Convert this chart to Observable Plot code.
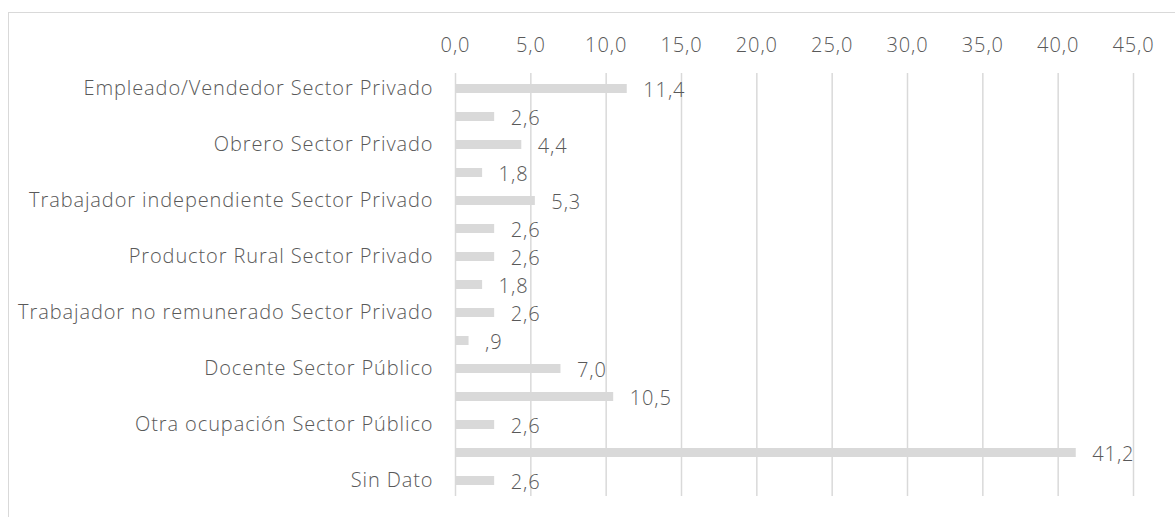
<!DOCTYPE html>
<html>
<head>
<meta charset="utf-8">
<script src="https://cdn.jsdelivr.net/npm/d3@7"></script>
<script src="https://cdn.jsdelivr.net/npm/@observablehq/plot@0.6"></script>
<style>
  html, body { margin: 0; padding: 0; background: #fff; }
  #wrap { position: relative; width: 1175px; height: 517px; overflow: hidden; }
  #frame { position: absolute; left: 8px; top: 12px; width: 1200px; height: 600px;
           border-left: 1.5px solid #d9d9d9; border-top: 1.5px solid #d9d9d9; }
  #chart { position: absolute; left: 0; top: 0; }
  svg text { font-weight: 300; letter-spacing: 0.9px; }
</style>
</head>
<body>
<div id="wrap"><div id="frame"></div><div id="chart"></div></div>
<script>
const categories = [
  "Empleado/Vendedor Sector Privado",
  "Patrón Sector Privado",
  "Obrero Sector Privado",
  "Servicio doméstico Sector Privado",
  "Trabajador independiente Sector Privado",
  "Profesional Sector Privado",
  "Productor Rural Sector Privado",
  "Changarín Sector Privado",
  "Trabajador no remunerado Sector Privado",
  "Jubilado",
  "Docente Sector Público",
  "Empleado Sector Público",
  "Otra ocupación Sector Público",
  "No trabaja",
  "Sin Dato"
];
const values = [11.4, 2.6, 4.4, 1.8, 5.3, 2.6, 2.6, 1.8, 2.6, 0.9, 7.0, 10.5, 2.6, 41.2, 2.6];
const shownLabels = [
  "Empleado/Vendedor Sector Privado",
  "Obrero Sector Privado",
  "Trabajador independiente Sector Privado",
  "Productor Rural Sector Privado",
  "Trabajador no remunerado Sector Privado",
  "Docente Sector Público",
  "Otra ocupación Sector Público",
  "Sin Dato"
];
const xTicks = [0, 5, 10, 15, 20, 25, 30, 35, 40, 45];

const data = categories.map((c, i) => ({category: c, value: values[i]}));
const fmt = v => {
  let s = v.toFixed(1).replace(".", ",");
  if (v > 0 && v < 1) s = s.replace(/^0/, "");
  return s;
};

const chart = Plot.plot({
  width: 1175,
  height: 517,
  marginLeft: 455,
  marginRight: 42,
  marginTop: 73,
  marginBottom: 21,
  style: {fontFamily: "'Open Sans', sans-serif", fontSize: "20px", color: "#595959", background: "transparent"},
  x: {domain: [0, 45], axis: null},
  y: {domain: categories, paddingInner: 0.68, paddingOuter: 0.34, axis: null},
  marks: [
    Plot.ruleX(xTicks, {stroke: "#d9d9d9", strokeOpacity: 1, strokeWidth: 1.5}),
    Plot.barX(data, {x: "value", y: "category", fill: "#d9d9d9"}),
    Plot.text(data, {x: "value", y: "category", text: d => fmt(d.value), textAnchor: "start", dx: 16, dy: 2, fill: "#595959", fontSize: 20}),
    Plot.axisX(xTicks, {anchor: "top", tickSize: 0, tickPadding: 22, tickFormat: fmt, fill: "#595959", fontSize: 20, label: null}),
    Plot.axisY({anchor: "left", tickSize: 0, tickPadding: 22, fill: "#595959", fontSize: 20, label: null,
      tickFormat: d => shownLabels.includes(d) ? d : ""})
  ]
});
document.getElementById("chart").appendChild(chart);
</script>
</body>
</html>
